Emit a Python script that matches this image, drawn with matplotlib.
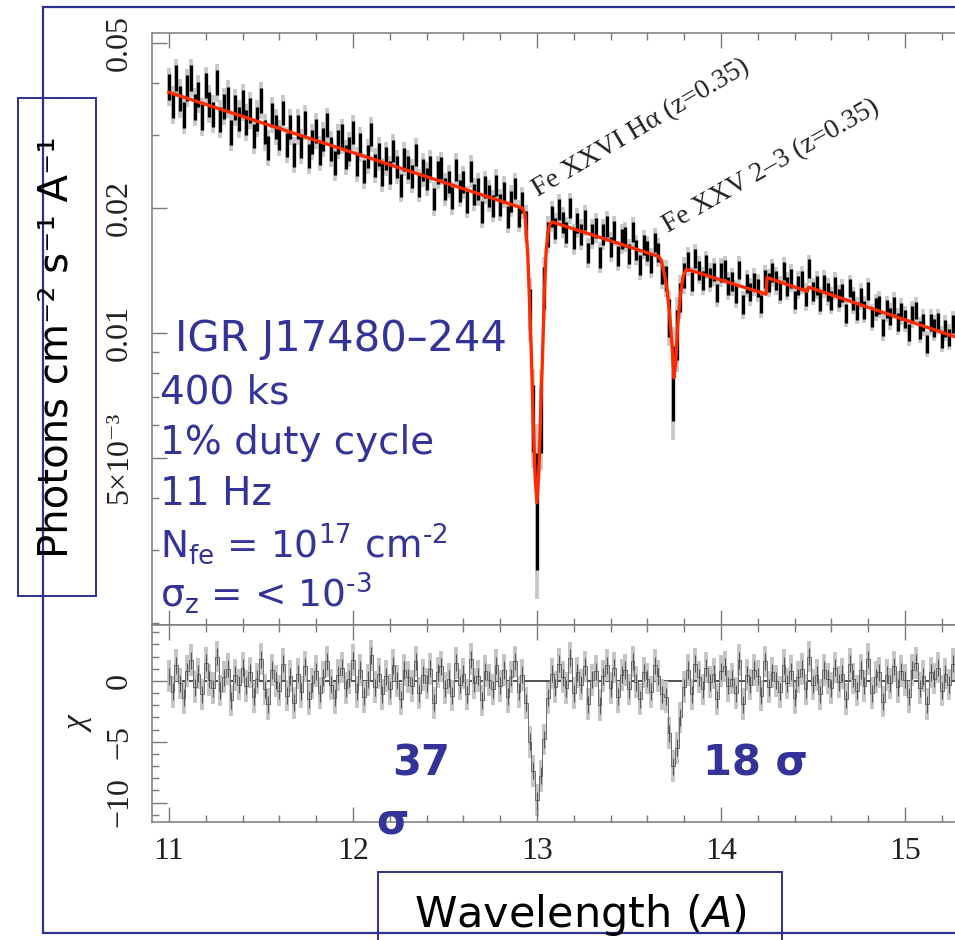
import numpy as np
import matplotlib
matplotlib.use("Agg")
import matplotlib.pyplot as plt
from matplotlib.patches import Rectangle
from matplotlib.ticker import FixedLocator, FixedFormatter, MultipleLocator, NullFormatter

plt.rcParams['mathtext.fontset'] = 'dejavusans'
plt.rcParams['font.serif'] = ['Liberation Serif', 'DejaVu Serif']

# ---------------------------------------------------------------- data
# best-fit model (red curve): wavelength [A] and flux [photons cm^-2 s^-1 A^-1]
model_wave = [11.00, 12.92, 12.935, 12.95, 12.96, 12.97, 12.98, 12.99, 13.00,
              13.01, 13.02, 13.03, 13.04, 13.05, 13.06, 13.07, 13.085,
              13.66, 13.675, 13.69, 13.705, 13.72, 13.735, 13.745, 13.755,
              13.765, 13.78, 13.795, 13.81, 13.825,
              14.245, 14.25, 14.47, 14.475, 15.30]
model_flux = [0.0380, 0.0200, 0.0193, 0.0155, 0.0118, 0.0088, 0.0060, 0.0045, 0.0039,
              0.0046, 0.0064, 0.0087, 0.0124, 0.0158, 0.0175, 0.0183, 0.0185,
              0.0153, 0.0150, 0.0140, 0.0130, 0.0112, 0.0092, 0.0078, 0.0086,
              0.0105, 0.0124, 0.0137, 0.0142, 0.0142,
              0.0124, 0.0136, 0.0126, 0.0129, 0.0097]

# binned spectrum: 0.02 A bins starting at 11.00 A; scatter in units of sigma
bin_start = 11.0
bin_width = 0.02
chi_noise = [
    0.4, -0.9, 1.3, -0.2, -1.4, 0.8, 1.7, -0.5, 0.6, -1.1, 1.5, 0.1, -0.6, 2.0, -0.8, 0.3, 1.0, -1.6, 0.5, -0.3,
    1.1, -0.4, 0.7, -1.3, 0.2, 1.8, -0.7, -1.9, 0.9, 0.0, -0.8, 1.4, -1.2, 0.4, -1.8, 0.6, -0.9, 1.2, -1.5, -0.2,
    0.8, -1.0, 0.3, 1.6, -0.3, -1.4, 0.5, 1.1, -0.6, 0.2, 1.7, -0.9, 0.9, -1.3, 0.1, 2.1, -0.5, 0.6, -1.1, 0.4,
    -0.7, 1.3, 0.0, -1.5, 0.9, 0.3, -0.4, 1.6, -1.0, 0.5, -0.2, 1.0, -1.8, 0.7, 1.2, -0.6, 0.2, -1.2, 1.5, -0.3,
    0.6, -1.1, 1.8, -0.2, 0.4, -1.6, 0.8, 0.1, -0.7, 1.3, -0.4, 0.9, -1.3, 0.3, 1.6, -0.9, 0.5, 0.3, -0.3, 0.2,
    -0.15, -0.2, 0.3, -0.2, 0.6, -0.5, 1.4, 0.3, -0.6, 1.9, -1.0, 0.7, -0.3, 1.2, -1.9, 0.1, 0.8, -2.0, 0.4, 1.3,
    -0.6, 1.1, -1.3, 0.5, 0.9, -0.7, 1.6, -0.1, -1.5, 0.7, 0.2, -0.9, 1.3, 0.4, -1.1, 0.2, -0.3, -0.55, 0.3, -0.2,
    -0.1, 0.9, -1.1, 1.4, 0.3, -0.7, 1.1, -0.1, 0.6, -1.5, 0.8, 1.2, -0.4, 0.2, -1.0, 1.7, -1.9, 0.5, -0.3, 0.9,
    0.4, -1.2, 1.6, -0.5, 0.7, 0.0, -0.9, 1.3, -0.2, 0.8, -1.4, 0.3, 1.0, -0.7, 2.0, -0.3, 0.5, -1.1, 0.9, 0.2,
    -0.6, 1.1, -0.1, 0.6, -1.5, 1.4, 0.2, -0.8, 0.9, -0.4, 1.8, -1.0, 0.3, 0.7, -1.7, 0.5, -0.2, 1.2, -0.5, 0.8,
    0.1, -1.3, 0.9, 1.5, -0.6, 0.4, -1.9, 0.7, 0.2, 1.1, -0.8, 0.6, -0.3, 1.4, -1.2,
]

# bins inside the two absorption lines: residual against the continuum (sigma)
# and the flux error of each bin (dex)
line_wave = [12.94, 12.96, 12.98, 13.00, 13.02, 13.04, 13.06,
             13.70, 13.72, 13.74, 13.76, 13.78, 13.80]
line_chi = [-2.1, -4.7, -7.6, -9.65, -7.6, -5.1, -1.2,
            -1.5, -4.0, -6.45, -5.8, -2.8, -0.4]
line_err = [0.03, 0.05, 0.08, 0.14, 0.08, 0.05, 0.03,
            0.03, 0.045, 0.09, 0.06, 0.035, 0.03]

wave_ticks = [11, 12, 13, 14, 15]
flux_ticks = [0.005, 0.01, 0.02, 0.05]
flux_tick_labels = ['5\u00d710\u207b\u00b3', '0.01', '0.02', '0.05']
flux_minor = [0.002, 0.003, 0.004, 0.006, 0.007, 0.008, 0.009, 0.03, 0.04]
chi_ticks = [-10, -5, 0]
chi_tick_labels = ['\u221210', '\u22125', '0']

line_labels = ['Fe XXVI H\u03b1 (z=0.35)', 'Fe XXV 2\u20133 (z=0.35)']
line_label_pos = [(13.005, 0.0213), (13.712, 0.0174)]
line_label_rot = [30.7, 29.8]

# ---------------------------------------------------------------- figure
W, H = 955, 940
fig = plt.figure(figsize=(W / 100, H / 100), dpi=100)


def px_box(x0, y0, x1, y1):
    return [x0 / W, 1 - y1 / H, (x1 - x0) / W, (y1 - y0) / H]


ax1 = fig.add_axes(px_box(152, 33, 960, 625))
ax2 = fig.add_axes(px_box(152, 625, 960, 822), sharex=ax1)

chi_noise = np.asarray(chi_noise, dtype=float)
nb = len(chi_noise)
wave = bin_start + bin_width * np.arange(nb)
idx = np.rint((np.asarray(line_wave) - bin_start) / bin_width).astype(int)
chi = chi_noise.copy()
chi[idx] += np.asarray(line_chi)

# spectrum panel (log flux); continuum error size in dex scales with flux
log_model = np.interp(wave, model_wave, np.log10(model_flux))
sig = 0.031 * (10 ** log_model / 0.038) ** 0.3
sig[idx] = line_err
log_data = log_model + sig * chi_noise
serif = ['Liberation Serif', 'DejaVu Serif']
ax1.vlines(wave, 10 ** (log_data - 1.5 * sig), 10 ** (log_data + 1.5 * sig), color='#c8c8c8', lw=2.7, zorder=1)
ax1.vlines(wave, 10 ** (log_data - sig), 10 ** (log_data + sig), color='black', lw=2.4, zorder=2)
ax1.plot(model_wave, model_flux, color='#ff2a00', lw=2.4, zorder=3, solid_joinstyle='round')
ax1.set_yscale('log')
ax1.set_ylim(0.00198, 0.0528)
ax1.set_xlim(10.908, 15.299)

for txt, (lx, ly), rot in zip(line_labels, line_label_pos, line_label_rot):
    ax1.text(lx, ly, txt, rotation=rot, rotation_mode='anchor', ha='left', va='baseline',
             family=serif, size=20, color='#222222', zorder=4)

# residual panel
ax2.hlines(0, 11.0, 15.3, color='#333333', lw=1.2, zorder=0.5)
ax2.vlines(wave, chi - 1.3, chi + 1.3, color='#c4c4c4', lw=2.8, zorder=1)
ax2.plot(wave, chi, drawstyle='steps-mid', color='#6a6a6a', lw=0.7, zorder=2)
ax2.vlines(wave, chi - 0.7, chi + 0.7, color='#555555', lw=0.8, zorder=2)
ax2.set_ylim(-11.6, 4.6)

# axes styling
spine_col = '#7a7a7a'
for ax in (ax1, ax2):
    for side in ('top', 'bottom', 'left'):
        ax.spines[side].set_color(spine_col)
        ax.spines[side].set_linewidth(1.1)
    ax.spines['right'].set_visible(False)
    ax.tick_params(which='both', direction='in', top=True, bottom=True, left=True, right=False,
                   color=spine_col, width=1.0, labelcolor='#222222',
                   labelfontfamily=serif, labelsize=23)
    ax.tick_params(which='major', length=10.5)
    ax.tick_params(which='minor', length=5)
    ax.tick_params(axis='y', labelrotation=90, pad=13)
    ax.xaxis.set_major_locator(FixedLocator(wave_ticks))
    ax.xaxis.set_minor_locator(MultipleLocator(0.2))

ax1.tick_params(axis='x', labelbottom=False)
ax2.tick_params(axis='x', pad=11)
ax1.yaxis.set_major_locator(FixedLocator(flux_ticks))
ax1.yaxis.set_major_formatter(FixedFormatter(flux_tick_labels))
ax1.yaxis.set_minor_locator(FixedLocator(flux_minor))
ax1.yaxis.set_minor_formatter(NullFormatter())
ax2.yaxis.set_major_locator(FixedLocator(chi_ticks))
ax2.yaxis.set_major_formatter(FixedFormatter(chi_tick_labels))
ax2.yaxis.set_minor_locator(MultipleLocator(1))
for lab in ax1.get_yticklabels() + ax2.get_yticklabels():
    lab.set_va('center')

# ---------------------------------------------------------------- frame and labels
ov = fig.add_axes([0, 0, 1, 1], zorder=10)
ov.set_xlim(0, W)
ov.set_ylim(H, 0)
ov.axis('off')
frame_col = '#2e3192'
text_col = '#333399'
ov.plot([960, 43, 43, 960], [7, 7, 933, 933], color=frame_col, lw=1.6, solid_joinstyle='miter')
ov.add_patch(Rectangle((18, 98), 78, 498, facecolor='white', edgecolor=frame_col, lw=1.4))
ov.add_patch(Rectangle((378, 872), 404, 100, facecolor='white', edgecolor=frame_col, lw=1.4,
                       clip_on=False))

ov.text(56, 347, 'Photons cm\u207b\u00b2 s\u207b\u00b9 A\u207b\u00b9',
        rotation=90, ha='center', va='center', size=29, color='black', family='DejaVu Sans')
ov.text(580, 927, r'Wavelength ($\mathit{A}$)', ha='center', va='baseline', size=31,
        color='black', family='DejaVu Sans')
ov.text(79, 725, '\u03c7', rotation=90, ha='center', va='center', size=24,
        family=serif, style='italic', color='#222222')

info_lines = ['IGR J17480\u2013244', '400 ks', '1% duty cycle', '11 Hz',
              'N$_{\\mathregular{fe}}$ = 10$^{\\mathregular{17}}$ cm$^{\\mathregular{\u20102}}$',
              '\u03c3$_{\\mathregular{z}}$ = < 10$^{\\mathregular{\u20103}}$']
info_pos = [(175, 351), (160, 403), (160, 454), (160, 505), (160, 557), (160, 607)]
info_size = [30, 28, 28, 28, 27, 27]
for txt, (tx, ty), fs in zip(info_lines, info_pos, info_size):
    ov.text(tx, ty, txt, ha='left', va='baseline', size=fs, color=text_col, family='DejaVu Sans')

ov.text(392, 775, '37', ha='left', va='baseline', size=30, weight='bold', color=text_col)
ov.text(376, 833, '\u03c3', ha='left', va='baseline', size=30, weight='bold', color=text_col)
ov.text(703, 775, '18 \u03c3', ha='left', va='baseline', size=30, weight='bold', color=text_col)

fig.savefig('out.png', dpi=100)
